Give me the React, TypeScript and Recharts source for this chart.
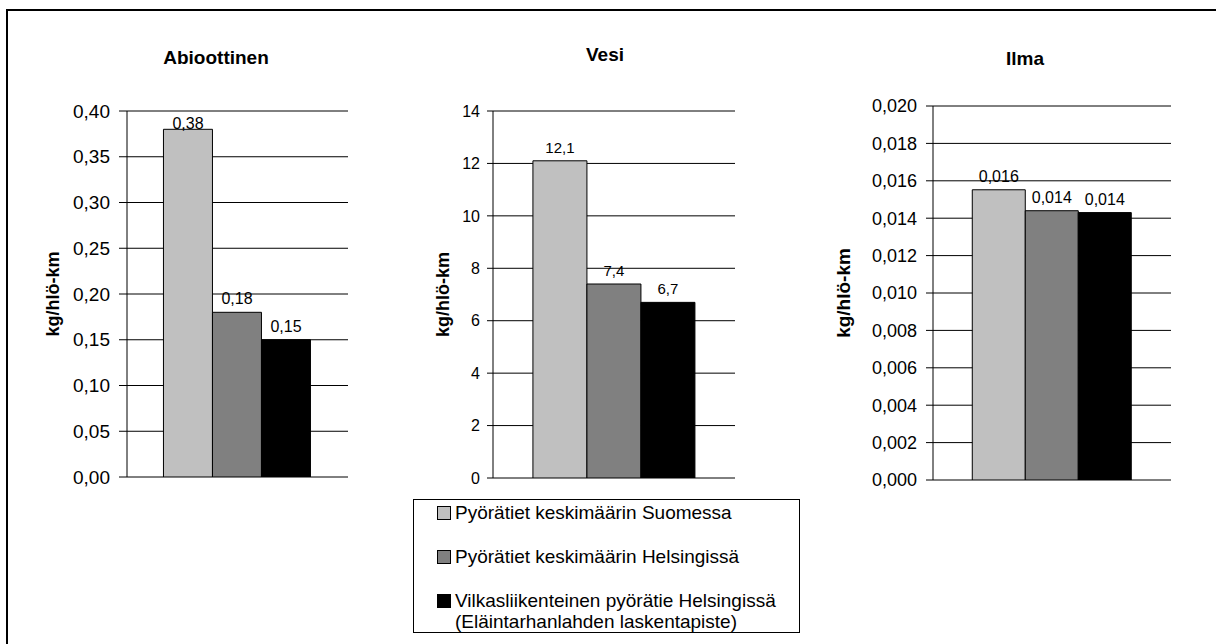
import React from 'react';
import {
  BarChart,
  Bar,
  XAxis,
  YAxis,
  CartesianGrid,
  ReferenceLine,
  LabelList,
  Legend,
} from 'recharts';

const FONT = '"Liberation Sans", Arial, Helvetica, sans-serif';

// Series shared by all three panels
const seriesNames = [
  'Pyörätiet keskimäärin Suomessa',
  'Pyörätiet keskimäärin Helsingissä',
  'Vilkasliikenteinen pyörätie Helsingissä (Eläintarhanlahden laskentapiste)',
];
const seriesColors = ['#C0C0C0', '#808080', '#000000'];

// Panel categories
const categories = ['Abioottinen', 'Vesi', 'Ilma'];

// Values per panel (kg/hlö-km), one per series
const abioottinenValues = [0.38, 0.18, 0.15];
const vesiValues = [12.1, 7.4, 6.7];
const ilmaValues = [0.01552, 0.0144, 0.0143];

// Y-axis ticks per panel
const abioottinenTicks = [0, 0.05, 0.1, 0.15, 0.2, 0.25, 0.3, 0.35, 0.4];
const vesiTicks = [0, 2, 4, 6, 8, 10, 12, 14];
const ilmaTicks = [0, 0.002, 0.004, 0.006, 0.008, 0.01, 0.012, 0.014, 0.016, 0.018, 0.02];

const yLabel = 'kg/hlö-km';

const fmt = (v: number, d: number) => Number(v).toFixed(d).replace('.', ',');

const toRow = (name: string, values: number[]) => {
  const row: Record<string, string | number> = { name };
  values.forEach((v, i) => {
    row[`s${i}`] = v;
  });
  return row;
};

const LegendBox = () => (
  <div
    style={{
      boxSizing: 'border-box',
      width: 387,
      height: 134,
      border: '1px solid #000',
      background: '#fff',
      paddingTop: 2,
      fontFamily: FONT,
      fontSize: 19,
      lineHeight: '21px',
      color: '#000',
    }}
  >
    {seriesNames.map((n, i) => (
      <div
        key={n}
        style={{ display: 'flex', alignItems: 'flex-start', marginLeft: 23, marginBottom: 23 }}
      >
        <span
          style={{
            width: 14,
            height: 14,
            boxSizing: 'border-box',
            border: '1px solid #000',
            background: seriesColors[i],
            marginTop: 4,
            flex: 'none',
          }}
        />
        <span style={{ marginLeft: 4, width: 330 }}>{n}</span>
      </div>
    ))}
  </div>
);

type PanelProps = {
  title: string;
  values: number[];
  ticks: number[];
  tickDecimals: number;
  labelDecimals: number;
  left: number;
  width: number;
  height: number;
  margin: { top: number; right: number; bottom: number; left: number };
  yAxisWidth: number;
  yLabelX: number;
  yLabelSize: number;
  tickFont: number;
  tickSize: number;
  tickMargin: number;
  labelFont: number;
  titleCenter: number;
  titleTop: number;
  withLegend?: boolean;
};

const Panel = (p: PanelProps) => {
  const data = [toRow(p.title, p.values)];
  const max = p.ticks[p.ticks.length - 1];
  const plotTop = p.margin.top;

  const barLabel = (props: any) => {
    const x = Number(props.x);
    const y = Number(props.y);
    const w = Number(props.width);
    let base = y - 8;
    if (base - p.labelFont * 0.72 < plotTop) base = y;
    return (
      <text
        x={x + w / 2}
        y={base}
        textAnchor="middle"
        fontSize={p.labelFont}
        fontFamily={FONT}
        fill="#000"
      >
        {fmt(props.value, p.labelDecimals)}
      </text>
    );
  };

  const axisLabel = (props: any) => {
    const vb = props.viewBox || {};
    const cy = Number(vb.y) + Number(vb.height) / 2;
    return (
      <text
        x={p.yLabelX}
        y={cy}
        transform={`rotate(-90 ${p.yLabelX} ${cy})`}
        textAnchor="middle"
        dominantBaseline="central"
        fontSize={p.yLabelSize}
        fontWeight="bold"
        fontFamily={FONT}
        fill="#000"
      >
        {yLabel}
      </text>
    );
  };

  return (
    <>
      <div
        style={{
          position: 'absolute',
          left: p.titleCenter - 100,
          top: p.titleTop,
          width: 200,
          textAlign: 'center',
          fontFamily: FONT,
          fontWeight: 'bold',
          fontSize: 19,
          lineHeight: '19px',
          color: '#000',
        }}
      >
        {p.title}
      </div>
      <div style={{ position: 'absolute', left: p.left, top: 0 }}>
        <BarChart
          width={p.width}
          height={p.height}
          data={data}
          margin={p.margin}
          barCategoryGap="16.5%"
          barGap={0}
        >
          <CartesianGrid yAxisId="l" vertical={false} stroke="#000" strokeWidth={1} />
          <XAxis
            dataKey="name"
            tick={false}
            tickLine={false}
            height={0}
            axisLine={{ stroke: '#000' }}
          />
          <YAxis
            yAxisId="l"
            width={p.yAxisWidth}
            domain={[0, max]}
            ticks={p.ticks}
            interval={0}
            allowDataOverflow
            tickFormatter={(v: number) => fmt(v, p.tickDecimals)}
            tick={{ fontSize: p.tickFont, fill: '#000', fontFamily: FONT }}
            tickSize={p.tickSize}
            tickMargin={p.tickMargin}
            tickLine={{ stroke: '#000' }}
            axisLine={{ stroke: '#000' }}
            label={{ content: axisLabel }}
          />
          <YAxis
            yAxisId="r"
            orientation="right"
            width={0}
            domain={[0, max]}
            tick={false}
            tickLine={false}
            axisLine={{ stroke: '#808080' }}
          />
          <ReferenceLine yAxisId="l" y={max} stroke="#808080" strokeWidth={1} />
          {seriesNames.map((n, i) => (
            <Bar
              key={n}
              yAxisId="l"
              dataKey={`s${i}`}
              name={n}
              fill={seriesColors[i]}
              stroke="#000"
              strokeWidth={1}
              isAnimationActive={false}
            >
              <LabelList dataKey={`s${i}`} content={barLabel} />
            </Bar>
          ))}
          {p.withLegend && (
            <Legend
              layout="vertical"
              align="center"
              verticalAlign="middle"
              wrapperStyle={{ left: 13, top: 499, width: 387, height: 134 }}
              content={() => <LegendBox />}
            />
          )}
        </BarChart>
      </div>
    </>
  );
};

export default function App() {
  return (
    <div
      style={{
        position: 'absolute',
        left: 0,
        top: 0,
        width: 1216,
        height: 644,
        overflow: 'hidden',
        background: '#fff',
      }}
    >
      <div
        style={{
          position: 'absolute',
          left: 6,
          top: 9,
          width: 1230,
          height: 660,
          border: '2px solid #000',
        }}
      />
      <Panel
        title={categories[0]}
        values={abioottinenValues}
        ticks={abioottinenTicks}
        tickDecimals={2}
        labelDecimals={2}
        left={0}
        width={400}
        height={500}
        margin={{ top: 111, right: 52, bottom: 23, left: 0 }}
        yAxisWidth={127}
        yLabelX={53}
        yLabelSize={18}
        tickFont={19}
        tickSize={8}
        tickMargin={9}
        labelFont={16}
        titleCenter={216}
        titleTop={48}
      />
      <Panel
        title={categories[1]}
        values={vesiValues}
        ticks={vesiTicks}
        tickDecimals={0}
        labelDecimals={1}
        left={400}
        width={420}
        height={644}
        margin={{ top: 111, right: 85, bottom: 166, left: 0 }}
        yAxisWidth={93}
        yLabelX={43}
        yLabelSize={18}
        tickFont={16}
        tickSize={6}
        tickMargin={7}
        labelFont={15}
        titleCenter={605}
        titleTop={45}
        withLegend
      />
      <Panel
        title={categories[2]}
        values={ilmaValues}
        ticks={ilmaTicks}
        tickDecimals={3}
        labelDecimals={3}
        left={820}
        width={396}
        height={500}
        margin={{ top: 106, right: 45, bottom: 20, left: 0 }}
        yAxisWidth={113}
        yLabelX={23}
        yLabelSize={19}
        tickFont={18}
        tickSize={7}
        tickMargin={9}
        labelFont={16}
        titleCenter={1025}
        titleTop={49}
      />
    </div>
  );
}
